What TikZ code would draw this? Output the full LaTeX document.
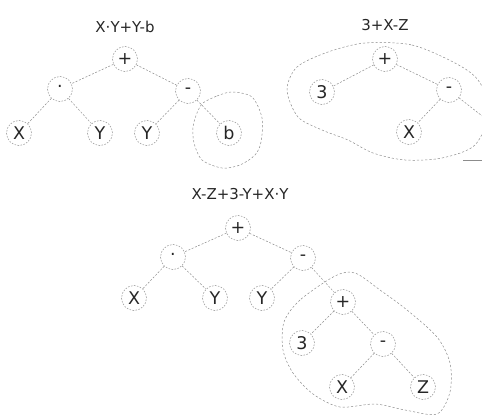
\documentclass[tikz,border=0pt]{standalone}
\usepackage{fontspec}
\setmainfont{DejaVu Sans}
\usepackage{xcolor}
\usetikzlibrary{calc}
\definecolor{ink}{HTML}{262626}
\definecolor{wire}{HTML}{8C8C8C}
\tikzset{
  sym/.style={circle, draw=wire, dash pattern=on 1.6pt off 1.4pt, line width=0.5pt,
              minimum size=25pt, inner sep=0pt, text=ink, font=\fontsize{17.5}{17.5}\selectfont},
  caption/.style={text=ink, font=\fontsize{15}{17}\selectfont},
  link/.style={draw=wire, dash pattern=on 2pt off 1.6pt, line width=0.5pt},
  ring/.style={draw=wire, dash pattern=on 2.2pt off 2pt, line width=0.5pt},
}

\begin{document}
\begin{tikzpicture}[x=1pt,y=-1pt]
\clip (0,0) rectangle (482,417);

% first tree
\node[caption] (t1) at (125,27) {X·Y+Y-b};
\node[sym] (a)  at (125,59)  {+};
\node[sym] (ad) at (60,89)   {·};
\node[sym] (am) at (188,91)  {-};
\node[sym] (ax) at (19,133)  {X};
\node[sym] (ay) at (100,133) {Y};
\node[sym] (az) at (147,133) {Y};
\node[sym] (ab) at (229,133) {b};
\draw[link](a)--(ad); \draw[link](a)--(am);
\draw[link](ad)--(ax); \draw[link](ad)--(ay);
\draw[link](am)--(az); \draw[link](am)--(ab);
\draw[ring] plot[smooth cycle] coordinates {(203,103) (217,96) (232,92) (252,97) (262,118)
  (261,142) (255,155) (240,165) (222,168) (202,160) (194,143) (193,127) (197,113)};

% second tree
\node[caption] (t2) at (385,25) {3+X-Z};
\node[sym] (p)  at (385,59)  {+};
\node[sym] (p3) at (322,92)  {3};
\node[sym] (pm) at (449,90)  {-};
\node[sym] (px) at (409,132) {X};
\coordinate (pz) at (500,130);
\draw[link](p)--(p3); \draw[link](p)--(pm);
\draw[link](pm)--(px); \draw[link](pm)--(pz);
\draw[ring] plot[smooth cycle] coordinates {(365,43) (412,45) (455,63) (478,80) (490,110)
  (475,145) (442,158) (405,160) (373,153) (348,140) (322,130) (298,117) (287,90) (297,67) (328,52)};
\coordinate (cut) at (463,160);
\draw[draw=wire, line width=0.8pt] (cut) -- ++(25,0);

% third tree
\node[caption] (t3) at (240,194) {X-Z+3-Y+X·Y};
\node[sym] (r)   at (238,228) {+};
\node[sym] (rd)  at (173,257) {·};
\node[sym] (rm)  at (303,258) {-};
\node[sym] (rx)  at (134,298) {X};
\node[sym] (ry)  at (215,298) {Y};
\node[sym] (rz)  at (262,298) {Y};
\node[sym] (s)   at (343,302) {+};
\node[sym] (s3)  at (302,343) {3};
\node[sym] (sm)  at (383,344) {-};
\node[sym] (sx)  at (342,387) {X};
\node[sym] (sz)  at (423,387) {Z};
\draw[link](r)--(rd); \draw[link](r)--(rm);
\draw[link](rd)--(rx); \draw[link](rd)--(ry);
\draw[link](rm)--(rz); \draw[link](rm)--(s);
\draw[link](s)--(s3); \draw[link](s)--(sm);
\draw[link](sm)--(sx); \draw[link](sm)--(sz);
\draw[ring] plot[smooth cycle] coordinates {(335,276) (300,300) (284,322) (283,350) (293,373)
  (313,394) (340,407) (375,404) (405,410) (437,414) (450,392) (450,363) (437,337) (407,310)
  (380,290) (355,273)};
\end{tikzpicture}
\end{document}
